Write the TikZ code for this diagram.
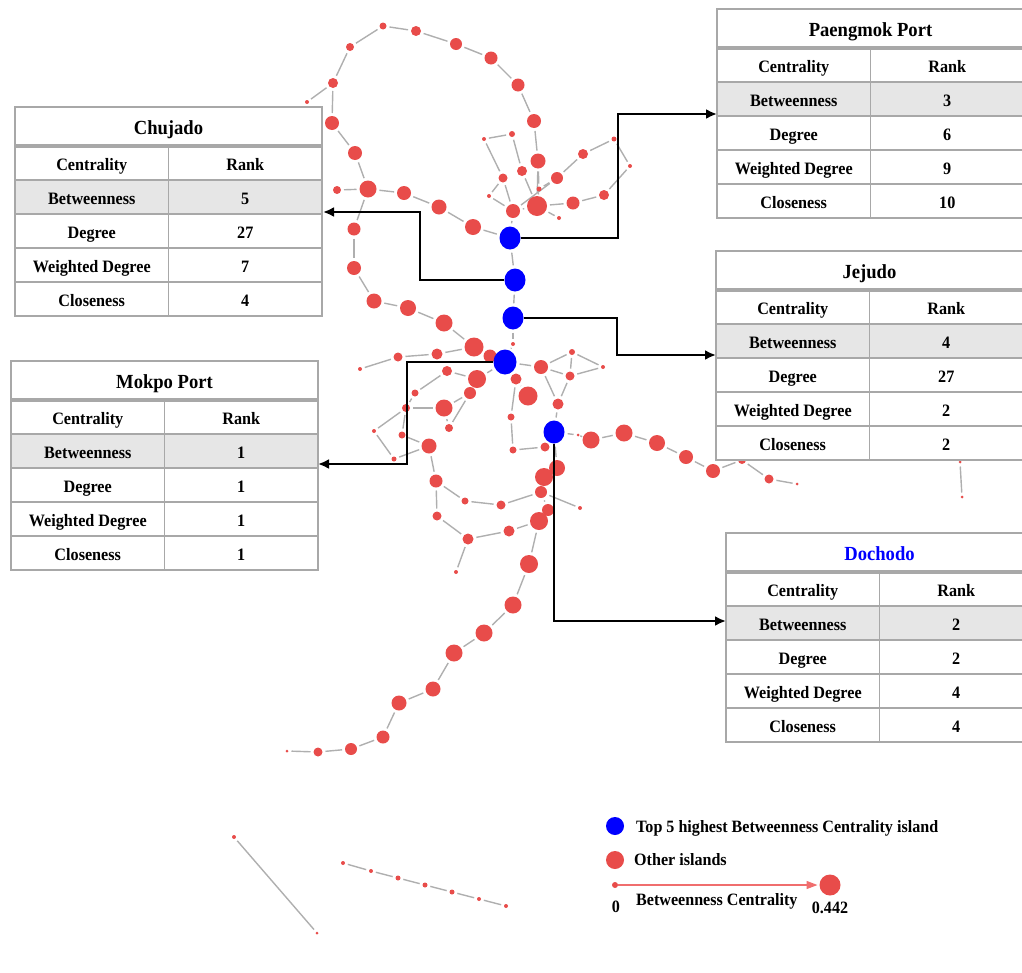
\documentclass[tikz,border=0pt]{standalone}
\usepackage{fontspec}
\setmainfont{Liberation Serif}[FakeStretch=0.93]
\usetikzlibrary{shapes.geometric,arrows.meta}
\pgfdeclarelayer{background}
\pgfsetlayers{background,main}
\definecolor{islred}{RGB}{232,76,74}
\definecolor{islblue}{RGB}{0,0,255}
\definecolor{edgegray}{RGB}{175,175,175}
\definecolor{rowfill}{RGB}{230,230,230}
\definecolor{tgray}{RGB}{168,168,168}
\definecolor{legline}{RGB}{240,110,110}
\tikzset{
  isl/.style={circle,fill=islred,inner sep=0pt,outer sep=0pt},
  blue isl/.style={ellipse,fill=islblue,inner sep=0pt,minimum width=21pt,minimum height=23pt},
  netedge/.style={draw=edgegray,line width=1.4pt,shorten <=3pt,shorten >=3pt},
  tline/.style={draw=tgray,line width=1.7pt},
  tthick/.style={draw=tgray,line width=3.6pt},
  ttitle/.style={font=\fontsize{20}{22}\selectfont\bfseries,inner sep=0pt,text height=13pt,text depth=4pt},
  tcell/.style={font=\fontsize{17.4}{19}\selectfont\bfseries,inner sep=0pt,text height=11.5pt,text depth=3.5pt},
  legtext/.style={font=\fontsize{17.3}{19}\selectfont\bfseries,inner sep=0pt,anchor=west,text height=11.5pt,text depth=3.5pt},
  conn/.style={draw=black,line width=2.4pt,-{Latex[length=11pt,width=10pt]}},
  legarrow/.style={draw=legline,line width=1.3pt,-{Triangle[length=11pt,width=8pt]}}
}
\newcommand{\isltable}[8]{%
\begin{scope}[shift={(#2,#3)}]
\fill[white] (0,0) rectangle (307,209);
\fill[rowfill] (0,73) rectangle (307,107);
\draw[tline] (0,73)--(307,73) (0,107)--(307,107) (0,141)--(307,141) (0,175)--(307,175) (153.5,39)--(153.5,209);
\draw[tthick] (0,39)--(307,39);
\draw[tline] (0,0) rectangle (307,209);
\node[ttitle] (#1-t) at (153.5,23) {#4};
\node[tcell] (#1-h1) at (76.75,59) {Centrality};
\node[tcell] (#1-h2) at (230.25,59) {Rank};
\node[tcell] (#1-l1) at (76.75,93) {Betweenness};
\node[tcell] (#1-v1) at (230.25,93) {#5};
\node[tcell] (#1-l2) at (76.75,127) {Degree};
\node[tcell] (#1-v2) at (230.25,127) {#6};
\node[tcell] (#1-l3) at (76.75,161) {Weighted Degree};
\node[tcell] (#1-v3) at (230.25,161) {#7};
\node[tcell] (#1-l4) at (76.75,195) {Closeness};
\node[tcell] (#1-v4) at (230.25,195) {#8};
\end{scope}}
\def\islands{307/102/2, 333/83/5, 350/47/4, 383/26/3.5, 416/31/5, 456/44/6, 491/58/6.5, 518/85/6.5, 534/121/7, 538/161/7.5,
537/206/10, 513/211/7, 473/227/8, 439/207/7.5, 404/193/7, 368/189/8.5, 337/190/4, 355/153/7, 332/123/7, 354/229/6.5,
354/268/7, 374/301/7.5, 408/308/8, 444/323/8.5, 474/347/9.5, 490/356/6.5, 512/134/3, 484/139/2, 522/171/5, 503/178/4.5,
557/178/6, 583/154/5, 614/139/2.5, 630/166/2, 604/195/5, 573/203/6.5, 539/189/2.5, 489/196/2, 559/218/2, 513/344/2,
360/369/2, 398/357/4.5, 437/354/5.5, 447/371/5, 477/379/9, 470/393/6, 415/393/3.5, 444/408/8.5, 406/408/4, 374/431/2,
402/435/3.5, 449/428/4, 429/446/7.5, 394/459/2.5, 516/379/5.5, 528/396/9.5, 541/367/7, 572/352/3, 570/376/4.5, 603/367/2,
558/404/5.5, 511/417/3.5, 513/450/3.5, 545/447/4.5, 578/435/1.5, 591/440/8.5, 624/433/8.5, 657/443/8, 686/457/7, 713/471/7,
742/460/4, 769/479/4.5, 797/484/1.5, 960/462/1.5, 962/497/1.5, 557/468/8, 544/477/9, 541/492/6, 548/510/6, 539/521/9,
580/508/2, 509/531/5.5, 501/505/4.5, 465/501/3.5, 436/481/6.5, 437/516/4.5, 468/539/5.5, 456/572/2, 529/564/9, 513/605/8.5,
484/633/8.5, 454/653/8.5, 433/689/7.5, 399/703/7.5, 383/737/6.5, 351/749/6, 318/752/4.5, 287/751/1.5, 234/837/2, 317/933/1.5,
343/863/2, 371/871/2, 398/878/2.5, 425/885/2.5, 452/892/2.5, 479/899/2, 506/906/2}
\def\netedges{n1/n2, n2/n3, n3/n4, n4/n5, n5/n6, n6/n7, n7/n8, n8/n9, n9/n10, n10/n11, n11/n12, n12/b1, n13/b1,
n2/n19, n19/n18, n18/n16, n16/n20, n20/n21, n21/n22, n22/n23, n23/n24, n24/n25, n25/n26, n26/b4,
n17/n16, n16/n15, n15/n14, n14/n13, b1/b2, b2/b3, b3/n40, n40/b4,
n27/n28, n28/n30, n27/n29, n29/n11, n10/n37, n37/n11, n31/n32, n32/n33, n33/n34, n34/n35, n35/n36, n36/n11,
n37/n31, n30/n38, n38/n12, n30/n12, n12/n31, n39/n11,
n41/n42, n42/n43, n43/n25, n44/n45, n47/n44, n49/n47, n49/n48, n50/n49, n50/n54, n54/n53, n51/n53, n49/n51,
n52/n46, n48/n46, n45/b4, n53/n85, n48/n52,
b4/n55, n55/n62, n62/n63, n63/n64, n64/b5, b4/n57, n57/n58, n57/n59, n58/n59, n58/n60, n59/n60, n57/n61, n59/n61,
n61/b5, b5/n65, n65/n66, n66/n67, n67/n68, n68/n69, n69/n70, n70/n71, n71/n72, n72/n73, n74/n75,
b5/n76, n76/n77, n77/n78, n78/n79, n79/n80, n78/n81, n85/n84, n84/n83, n83/n78, n85/n86, n86/n87, n87/n82,
n82/n80, n87/n88, n80/n89, n89/n90, n90/n91, n91/n92, n92/n93, n93/n94, n94/n95, n95/n96, n96/n97, n97/n98,
n99/n100, n101/n102, n102/n103, n103/n104, n104/n105, n105/n106, n106/n107, n55/n56}
\begin{document}
\begin{tikzpicture}[x=1pt,y=-1pt]
\useasboundingbox (0,0) rectangle (1022,972);
\clip (0,0) rectangle (1022,972);
% network nodes
\foreach \x/\y/\r [count=\i] in \islands {
  \node[isl,minimum size=\r*2pt] (n\i) at (\x,\y) {};
}
\node[blue isl] (b1) at (510,238) {};
\node[blue isl] (b2) at (515,280) {};
\node[blue isl] (b3) at (513,318) {};
\node[blue isl,minimum width=23pt,minimum height=25pt] (b4) at (505,362) {};
\node[blue isl] (b5) at (554,432) {};
\begin{pgfonlayer}{background}
\foreach \a/\b in \netedges { \draw[netedge] (\a) -- (\b); }
\end{pgfonlayer}
% tables
\isltable{ch}{15}{107}{Chujado}{5}{27}{7}{4}
\isltable{pm}{717}{9}{Paengmok Port}{3}{6}{9}{10}
\isltable{je}{716}{251}{Jejudo}{4}{27}{2}{2}
\isltable{mk}{11}{361}{Mokpo Port}{1}{1}{1}{1}
\isltable{do}{726}{533}{\color{islblue}Dochodo}{2}{2}{4}{4}
% connectors
\coordinate (k1) at (618,114); \coordinate (pm-in) at (717,114);
\coordinate (k2) at (420,212); \coordinate (ch-in) at (323,212);
\coordinate (k3) at (617,355); \coordinate (je-in) at (716,355);
\coordinate (k4) at (407,464); \coordinate (mk-in) at (318,464);
\coordinate (do-in) at (726,621);
\draw[conn] (b1) -| (k1) -- (pm-in);
\draw[conn] (b2) -| (k2) -- (ch-in);
\draw[conn] (b3) -| (k3) -- (je-in);
\draw[conn] (b4) -| (k4) -- (mk-in);
\draw[conn] (b5) |- (do-in);
% legend
\node[circle,fill=islblue,inner sep=0pt,minimum size=18pt] (lgb) at (615,826) {};
\node[legtext] (lgbt) at (636,828) {Top 5 highest Betweenness Centrality island};
\node[isl,minimum size=18pt] (lgr) at (615,860) {};
\node[legtext] (lgrt) at (634,861) {Other islands};
\node[isl,minimum size=6pt] (lgs) at (615,885) {};
\node[isl,minimum size=21pt] (lgbig) at (830,885) {};
\draw[legarrow,shorten >=2pt] (lgs) -- (lgbig);
\node[legtext,anchor=center] (lg0) at (616,908) {0};
\node[legtext] (lgct) at (636,901) {Betweenness Centrality};
\node[legtext,anchor=center] (lgmax) at (830,909) {0.442};
\end{tikzpicture}
\end{document}
